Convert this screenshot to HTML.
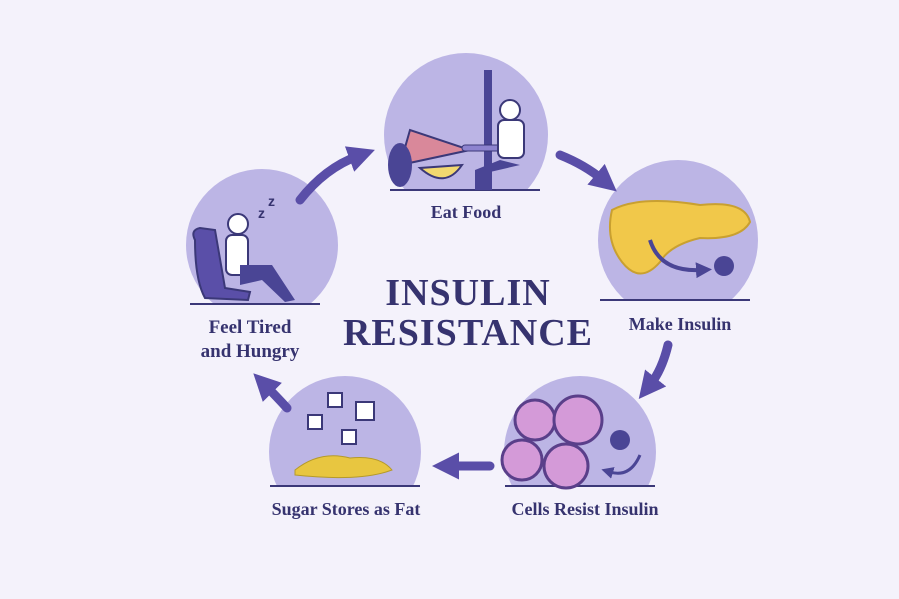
<!DOCTYPE html>
<html><head><style>
html,body{margin:0;padding:0;background:#f4f2fb;}
svg{display:block}
text{font-family:"Liberation Serif",serif;font-weight:bold;fill:#36336f}
</style></head><body>
<svg width="899" height="599" viewBox="0 0 899 599">
<rect width="899" height="599" fill="#f4f2fb"/>
<defs>
<clipPath id="c1"><rect x="0" y="0" width="899" height="190"/></clipPath>
<clipPath id="c2"><rect x="0" y="0" width="899" height="300"/></clipPath>
<clipPath id="c3"><rect x="0" y="0" width="899" height="486"/></clipPath>
<clipPath id="c5"><rect x="0" y="0" width="899" height="304"/></clipPath>
<marker id="ah" markerWidth="3" markerHeight="3" refX="1" refY="1.5" orient="auto"><path d="M0,0 L3,1.5 L0,3 z" fill="#5a4ea8"/></marker>
<marker id="ah2" markerWidth="4" markerHeight="4" refX="1" refY="2" orient="auto"><path d="M0,0 L4,2 L0,4 z" fill="#4a4595"/></marker>
</defs>
<circle cx="466" cy="135" r="82" fill="#bcb5e5" clip-path="url(#c1)"/>
<line x1="390" y1="190" x2="540" y2="190" stroke="#3b3878" stroke-width="2"/>
<circle cx="678" cy="240" r="80" fill="#bcb5e5" clip-path="url(#c2)"/>
<line x1="600" y1="300" x2="750" y2="300" stroke="#3b3878" stroke-width="2"/>
<circle cx="580" cy="452" r="76" fill="#bcb5e5" clip-path="url(#c3)"/>
<line x1="505" y1="486" x2="655" y2="486" stroke="#3b3878" stroke-width="2"/>
<circle cx="345" cy="452" r="76" fill="#bcb5e5" clip-path="url(#c3)"/>
<line x1="270" y1="486" x2="420" y2="486" stroke="#3b3878" stroke-width="2"/>
<circle cx="262" cy="245" r="76" fill="#bcb5e5" clip-path="url(#c5)"/>
<line x1="190" y1="304" x2="320" y2="304" stroke="#3b3878" stroke-width="2"/>

<rect x="484" y="70" width="8" height="120" fill="#4a4595"/>
<path d="M400,165 L410,130 L470,150 Z" fill="#d9889a" stroke="#3b3878" stroke-width="2"/>
<path d="M420,168 Q445,190 462,165 Z" fill="#f2d870" stroke="#3b3878" stroke-width="2"/>
<ellipse cx="400" cy="165" rx="12" ry="22" fill="#4a4595"/>
<rect x="462" y="145" width="60" height="6" rx="3" fill="#8d83cf" stroke="#3b3878"/>
<rect x="498" y="120" width="26" height="38" rx="6" fill="#fff" stroke="#3b3878" stroke-width="2"/>
<circle cx="510" cy="110" r="10" fill="#fff" stroke="#3b3878" stroke-width="2"/>
<path d="M500,160 L475,170 L475,190 L490,190 L490,172 L520,165 Z" fill="#4a4595"/>
<path d="M612,210 Q640,195 700,205 Q745,200 750,222 Q740,240 700,238 Q670,245 660,262 Q640,285 622,262 Q605,240 612,210 Z" fill="#f1c84a" stroke="#c9a030" stroke-width="2"/>
<circle cx="724" cy="266" r="10" fill="#4a4595"/>
<path d="M650,240 Q660,272 700,270" stroke="#4a4595" stroke-width="4" fill="none" marker-end="url(#ah2)"/>
<circle cx="535" cy="420" r="20" fill="#d49ad8" stroke="#5a3f8a" stroke-width="3"/>
<circle cx="578" cy="420" r="24" fill="#d49ad8" stroke="#5a3f8a" stroke-width="3"/>
<circle cx="522" cy="460" r="20" fill="#d49ad8" stroke="#5a3f8a" stroke-width="3"/>
<circle cx="566" cy="466" r="22" fill="#d49ad8" stroke="#5a3f8a" stroke-width="3"/>
<circle cx="620" cy="440" r="10" fill="#4a4595"/>
<path d="M640,455 Q630,478 610,472" stroke="#4a4595" stroke-width="3" fill="none" marker-end="url(#ah2)"/>
<path d="M295,470 Q320,450 350,458 Q380,455 392,470 Q360,482 295,475 Z" fill="#e8c640" stroke="#b59a2a"/>
<rect x="328" y="393" width="14" height="14" fill="#fff" stroke="#3b3878" stroke-width="2"/>
<rect x="356" y="402" width="18" height="18" fill="#fff" stroke="#3b3878" stroke-width="2"/>
<rect x="308" y="415" width="14" height="14" fill="#fff" stroke="#3b3878" stroke-width="2"/>
<rect x="342" y="430" width="14" height="14" fill="#fff" stroke="#3b3878" stroke-width="2"/>
<path d="M195,240 Q190,230 200,228 L215,230 Q222,270 225,288 L250,292 L248,300 L205,298 Q195,280 195,240Z" fill="#5a4fa8" stroke="#3b3878" stroke-width="2"/>
<rect x="226" y="235" width="22" height="40" rx="6" fill="#fff" stroke="#3b3878" stroke-width="2"/>
<circle cx="238" cy="224" r="10" fill="#fff" stroke="#3b3878" stroke-width="2"/>
<path d="M240,265 L272,265 L295,300 L285,302 L262,280 L240,285Z" fill="#4a4595"/>
<text x="258" y="218" font-size="14" style="font-family:'Liberation Sans'">z</text>
<text x="268" y="206" font-size="14" style="font-family:'Liberation Sans'">z</text>

<g stroke="#5a4ea8" stroke-width="9" fill="none" stroke-linecap="round">
<path d="M300,200 Q325,168 358,156" marker-end="url(#ah)"/>
<path d="M560,155 Q585,165 603,180" marker-end="url(#ah)"/>
<path d="M668,345 Q662,370 650,385" marker-end="url(#ah)"/>
<path d="M490,466 L450,466" marker-end="url(#ah)"/>
<path d="M287,408 Q276,396 266,386" marker-end="url(#ah)"/>
</g>

<text x="466" y="218" font-size="18" text-anchor="middle">Eat Food</text>
<text x="680" y="330" font-size="18" text-anchor="middle">Make Insulin</text>
<text x="585" y="515" font-size="18" text-anchor="middle">Cells Resist Insulin</text>
<text x="346" y="515" font-size="18" text-anchor="middle">Sugar Stores as Fat</text>
<text x="250" y="333" font-size="19" text-anchor="middle">Feel Tired</text>
<text x="250" y="357" font-size="19" text-anchor="middle">and Hungry</text>
<text x="468" y="305" font-size="38" text-anchor="middle" letter-spacing="1">INSULIN</text>
<text x="468" y="345" font-size="38" text-anchor="middle" letter-spacing="1">RESISTANCE</text>
</svg>
</body></html>
